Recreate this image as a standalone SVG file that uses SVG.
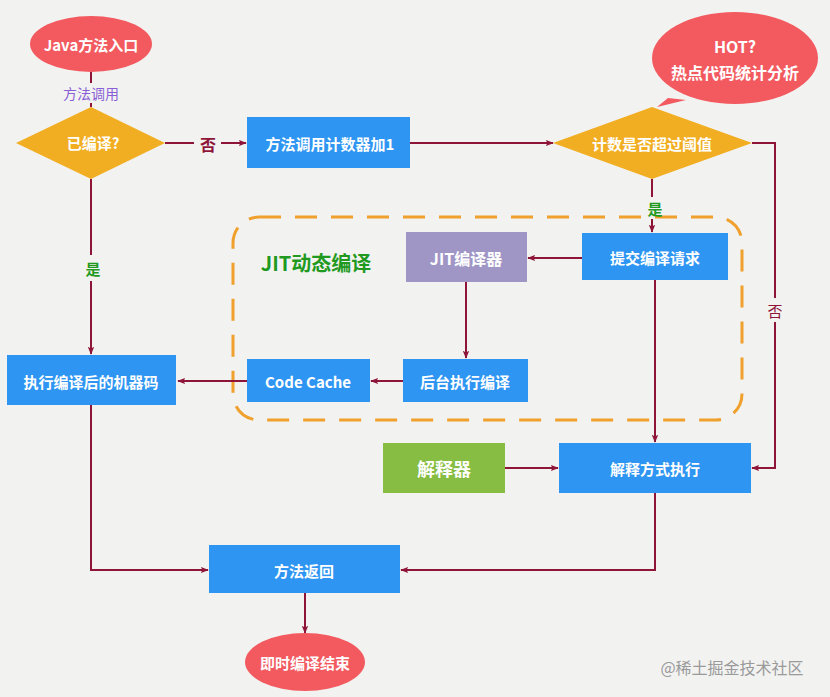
<svg xmlns="http://www.w3.org/2000/svg" width="830" height="697" viewBox="0 0 830 697">
<defs>
<marker id="arr" viewBox="0 0 10 10" refX="9" refY="5" markerWidth="8" markerHeight="8" markerUnits="userSpaceOnUse" orient="auto">
<path d="M0,1 L10,5 L0,9 L2,5 Z" fill="#8e1538"/>
</marker>
<style>
.t{font-family:"Noto Sans CJK SC","Liberation Sans",sans-serif;font-weight:bold;fill:#ffffff;text-anchor:middle;dominant-baseline:central}
.box{fill:#2e95f2}
.ell{fill:#f25a5f}
.dia{fill:#f2ae22}
.c{fill:none;stroke:#8e1538;stroke-width:2}
.ca{fill:none;stroke:#8e1538;stroke-width:2;marker-end:url(#arr)}
.lbl{font-family:"Noto Sans CJK SC","Liberation Sans",sans-serif;font-weight:bold;text-anchor:middle;dominant-baseline:central;font-size:15px}
</style>
</defs>
<rect x="0" y="0" width="830" height="697" fill="#f2f2f1"/>

<g id="jit-region">
<rect x="233" y="217" width="509" height="203" rx="26" fill="none" stroke="#f0a02c" stroke-width="3" stroke-dasharray="22 14"/>
<text x="316" y="262" class="lbl" style="fill:#1f9a1f;font-size:20px">JIT动态编译</text>
</g>

<g id="connectors">
<line class="c" x1="91" y1="72" x2="91" y2="83"/>
<line class="c" x1="91" y1="103" x2="91" y2="107"/>
<line class="c" x1="165" y1="143" x2="194" y2="143"/>
<line class="ca" x1="221" y1="143" x2="246" y2="143"/>
<line class="ca" x1="410" y1="143" x2="553" y2="143"/>
<line class="c" x1="652" y1="179" x2="652" y2="197"/>
<line class="ca" x1="652" y1="219" x2="652" y2="232"/>
<polyline class="c" points="752,143 775,143 775,298"/>
<polyline class="ca" points="775,322 775,468 752,468"/>
<line class="ca" x1="582" y1="258" x2="528" y2="258"/>
<line class="ca" x1="466" y1="282" x2="466" y2="358"/>
<line class="ca" x1="403" y1="381" x2="371" y2="381"/>
<line class="ca" x1="247" y1="381" x2="178" y2="381"/>
<line class="c" x1="91" y1="179" x2="91" y2="255"/>
<line class="ca" x1="91" y1="281" x2="91" y2="354"/>
<line class="ca" x1="655" y1="280" x2="655" y2="442"/>
<line class="ca" x1="505" y1="468" x2="558" y2="468"/>
<polyline class="ca" points="91,405 91,570 208,570"/>
<polyline class="ca" points="655,493 655,570 401,570"/>
<line class="ca" x1="305" y1="593" x2="305" y2="633"/>
<text x="91" y="93" class="lbl" style="fill:#8a5fd6;font-weight:normal;font-size:14px">方法调用</text>
<text x="208" y="144" class="lbl" style="fill:#8e1538;font-size:16px">否</text>
<text x="655" y="208" class="lbl" style="fill:#1f9a1f">是</text>
<text x="93" y="268" class="lbl" style="fill:#1f9a1f">是</text>
<text x="775" y="310" class="lbl" style="fill:#8e1538;font-weight:normal">否</text>
</g>

<g id="java-entry">
<ellipse cx="91" cy="44" rx="61" ry="28" class="ell"/>
<text x="91" y="44" class="t" font-size="15">Java方法入口</text>
</g>

<g id="compiled">
<polygon points="16,143 91,107 165,143 91,179" class="dia"/>
<text x="93" y="142" class="t" font-size="15">已编译?</text>
</g>

<g id="counter">
<rect x="247" y="117" width="163" height="51" class="box"/>
<text x="330" y="143" class="t" font-size="15">方法调用计数器加1</text>
</g>

<g id="threshold">
<polygon points="553,143 652,107 752,143 652,179" class="dia"/>
<text x="652" y="143" class="t" font-size="15">计数是否超过阈值</text>
</g>

<g id="hot">
<path d="M668,98 L657,107 L686,100 Z" class="ell"/>
<ellipse cx="735" cy="58" rx="83" ry="46" class="ell"/>
<text x="735" y="46" class="t" font-size="16">HOT?</text>
<text x="735" y="72" class="t" font-size="16">热点代码统计分析</text>
</g>

<g id="submit">
<rect x="582" y="233" width="146" height="47" class="box"/>
<text x="655" y="257" class="t" font-size="15">提交编译请求</text>
</g>

<g id="jit-compiler">
<rect x="406" y="232" width="121" height="50" fill="#a096c6"/>
<text x="466" y="258" class="t" font-size="16">JIT编译器</text>
</g>

<g id="background-compile">
<rect x="403" y="359" width="125" height="43" class="box"/>
<text x="465" y="381" class="t" font-size="15">后台执行编译</text>
</g>

<g id="code-cache">
<rect x="247" y="359" width="123" height="43" class="box"/>
<text x="308" y="381" class="t" font-size="15">Code Cache</text>
</g>

<g id="machine-code">
<rect x="7" y="355" width="169" height="50" class="box"/>
<text x="91" y="381" class="t" font-size="15">执行编译后的机器码</text>
</g>

<g id="interpreter">
<rect x="383" y="443" width="122" height="50" fill="#86bd42"/>
<text x="444" y="468" class="t" font-size="18">解释器</text>
</g>

<g id="interpret-exec">
<rect x="559" y="443" width="192" height="50" class="box"/>
<text x="655" y="468" class="t" font-size="15">解释方式执行</text>
</g>

<g id="method-return">
<rect x="209" y="545" width="191" height="48" class="box"/>
<text x="304" y="570" class="t" font-size="15">方法返回</text>
</g>

<g id="end">
<ellipse cx="305" cy="662" rx="60" ry="29" class="ell"/>
<text x="305" y="662" class="t" font-size="15">即时编译结束</text>
</g>

<text x="732" y="667" style="font-family:'Noto Sans CJK SC',sans-serif;font-size:16px;fill:#9a9a9a;text-anchor:middle;dominant-baseline:central">@稀土掘金技术社区</text>
</svg>
